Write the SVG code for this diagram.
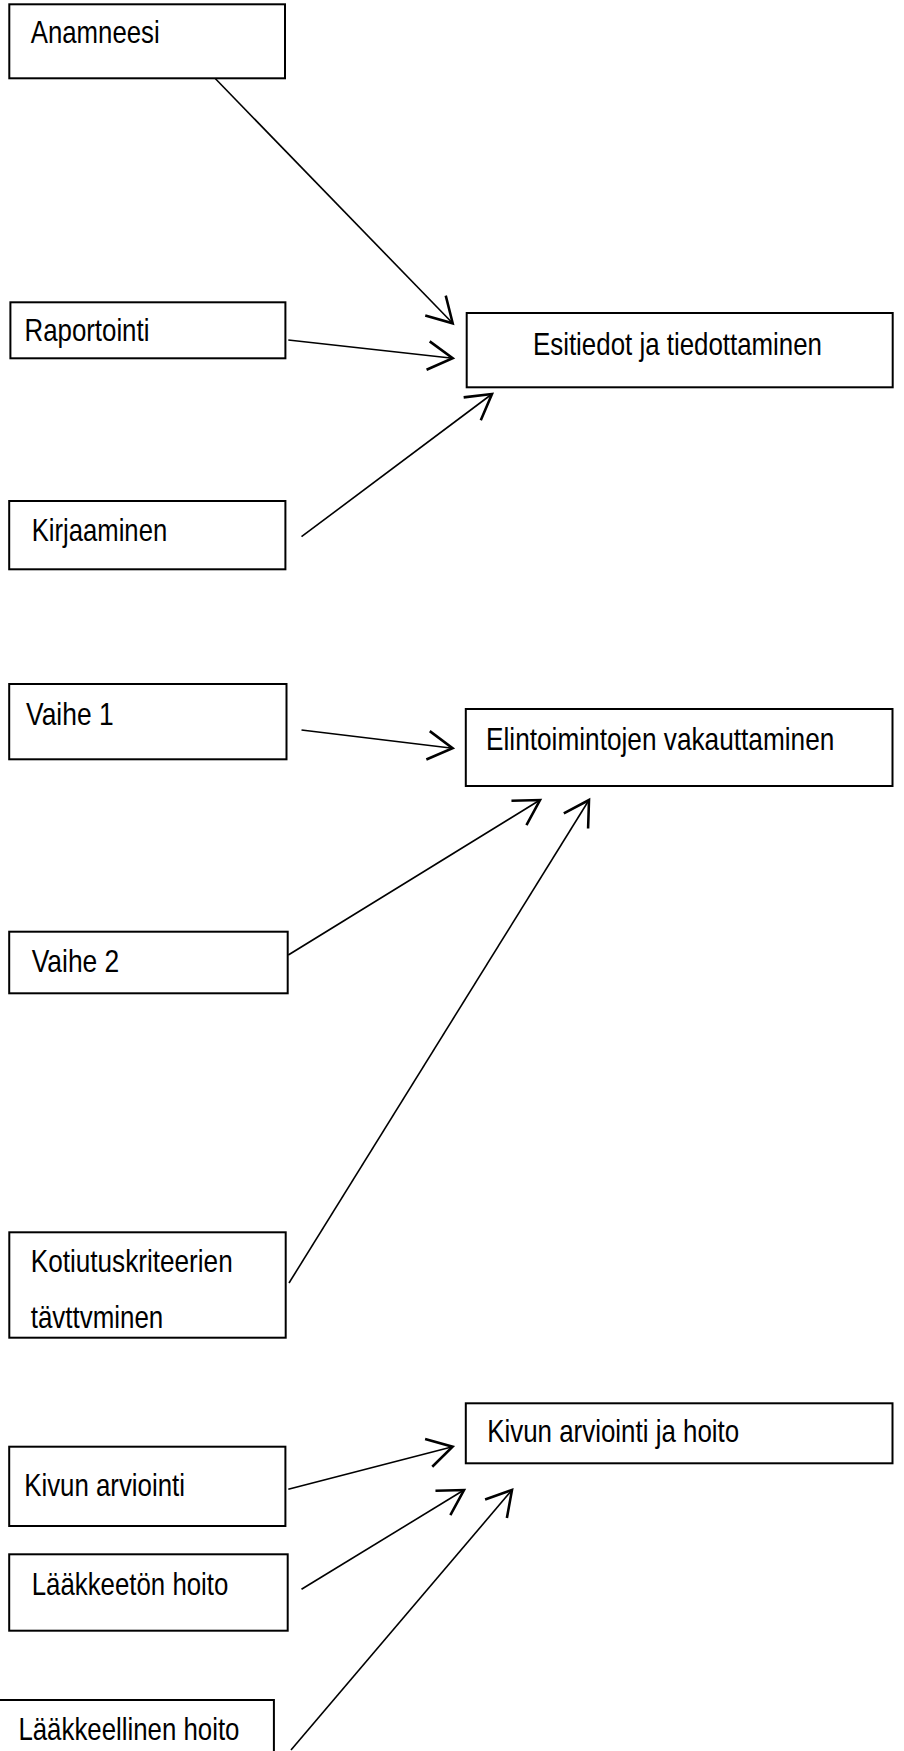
<svg xmlns="http://www.w3.org/2000/svg" width="904" height="1751" viewBox="0 0 904 1751">
<style>
.box{fill:#fff;stroke:#000;stroke-width:2}
.lbl{font-family:"Liberation Sans Narrow","Arial Narrow","Liberation Sans",Arial,sans-serif;font-size:31.5px;fill:#000}
.edge{stroke:#000;stroke-width:1.6;fill:none;marker-end:url(#arr)}
</style>
<defs>
<marker id="arr" markerUnits="userSpaceOnUse" markerWidth="40" markerHeight="40" refX="0" refY="0" viewBox="-22 -14 26 28" orient="auto" overflow="visible">
<path d="M-17.3,-10 L0,0 L-17.3,10" fill="none" stroke="#000" stroke-width="1.8"/>
</marker>
</defs>
<rect width="904" height="1751" fill="#fff"/>
<g id="connectors">
<line class="edge" x1="215" y1="78.3" x2="452.7" y2="323.3"/>
<line class="edge" x1="288.3" y1="340" x2="452.7" y2="358.3"/>
<line class="edge" x1="301.5" y1="536.7" x2="492" y2="394"/>
<line class="edge" x1="301.5" y1="730" x2="452.6" y2="748.3"/>
<line class="edge" x1="288.3" y1="955" x2="540" y2="800"/>
<line class="edge" x1="289" y1="1283" x2="589" y2="800"/>
<line class="edge" x1="288.3" y1="1489.3" x2="452.6" y2="1446.7"/>
<line class="edge" x1="301.5" y1="1589.3" x2="464" y2="1490"/>
<line class="edge" x1="291" y1="1750" x2="512" y2="1490"/>
</g>
<g id="anamneesi"><rect class="box" x="9.3" y="4.3" width="275.7" height="74"/><text class="lbl" x="30.7" y="43.3" textLength="129" lengthAdjust="spacingAndGlyphs">Anamneesi</text></g>
<g id="raportointi"><rect class="box" x="10.4" y="302.3" width="275" height="56"/><text class="lbl" x="24.5" y="341" textLength="124.9" lengthAdjust="spacingAndGlyphs">Raportointi</text></g>
<g id="kirjaaminen"><rect class="box" x="9.2" y="501" width="276.2" height="68.3"/><text class="lbl" x="31.7" y="541" textLength="135.5" lengthAdjust="spacingAndGlyphs">Kirjaaminen</text></g>
<g id="esitiedot"><rect class="box" x="466.7" y="313" width="426" height="74.3"/><text class="lbl" x="533" y="355" textLength="289" lengthAdjust="spacingAndGlyphs">Esitiedot ja tiedottaminen</text></g>
<g id="vaihe1"><rect class="box" x="9.2" y="684" width="277.3" height="75.3"/><text class="lbl" x="26" y="725" textLength="87.6" lengthAdjust="spacingAndGlyphs">Vaihe 1</text></g>
<g id="elintoiminnot"><rect class="box" x="465.8" y="709" width="426.7" height="77"/><text class="lbl" x="486" y="750" textLength="348.3" lengthAdjust="spacingAndGlyphs">Elintoimintojen vakauttaminen</text></g>
<g id="vaihe2"><rect class="box" x="9.2" y="931.7" width="278.5" height="61.6"/><text class="lbl" x="31.7" y="971.7" textLength="87.6" lengthAdjust="spacingAndGlyphs">Vaihe 2</text></g>
<g id="kotiutus"><rect class="box" x="9.3" y="1232.3" width="276.4" height="105.4"/><text class="lbl" x="30.7" y="1272.3" textLength="202" lengthAdjust="spacingAndGlyphs">Kotiutuskriteerien</text><text class="lbl" x="30.7" y="1328.3" textLength="132.6" lengthAdjust="spacingAndGlyphs">tävttvminen</text></g>
<g id="kivunhoito"><rect class="box" x="465.8" y="1403.3" width="426.7" height="60"/><text class="lbl" x="487.2" y="1441.7" textLength="252" lengthAdjust="spacingAndGlyphs">Kivun arviointi ja hoito</text></g>
<g id="kivunarviointi"><rect class="box" x="9.2" y="1446.7" width="276.2" height="79.3"/><text class="lbl" x="24.2" y="1496" textLength="160.8" lengthAdjust="spacingAndGlyphs">Kivun arviointi</text></g>
<g id="laakkeeton"><rect class="box" x="9.2" y="1554.3" width="278.5" height="76.4"/><text class="lbl" x="31.7" y="1595" textLength="196.7" lengthAdjust="spacingAndGlyphs">Lääkkeetön hoito</text></g>
<g id="laakkeellinen"><rect class="box" x="-1" y="1700" width="274.9" height="60"/><text class="lbl" x="18.4" y="1740" textLength="221.1" lengthAdjust="spacingAndGlyphs">Lääkkeellinen hoito</text></g>
</svg>
